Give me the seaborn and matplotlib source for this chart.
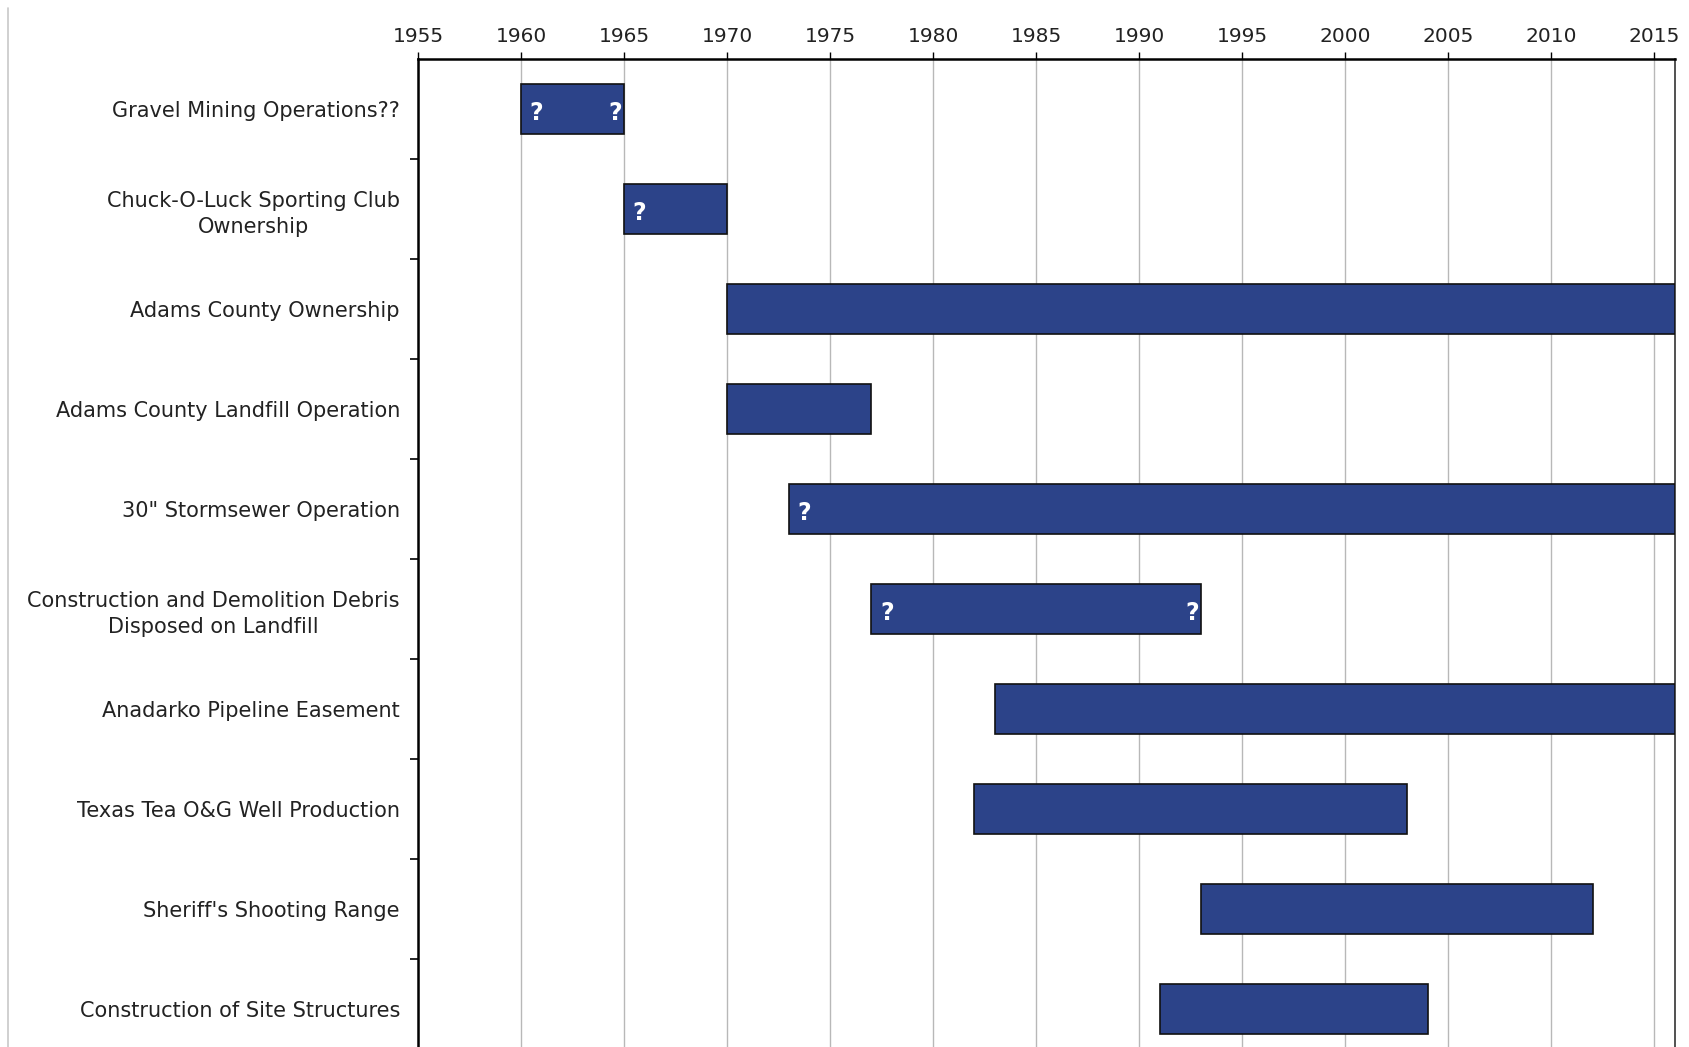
import matplotlib
matplotlib.use("Agg")
import matplotlib.pyplot as plt
import seaborn as sns
import pandas as pd
import numpy as np

categories = [
    "Gravel Mining Operations??",
    "Chuck-O-Luck Sporting Club\nOwnership",
    "Adams County Ownership",
    "Adams County Landfill Operation",
    "30\" Stormsewer Operation",
    "Construction and Demolition Debris\nDisposed on Landfill",
    "Anadarko Pipeline Easement",
    "Texas Tea O&G Well Production",
    "Sheriff's Shooting Range",
    "Construction of Site Structures",
]
start_year = [1960, 1965, 1970, 1970, 1973, 1977, 1983, 1982, 1993, 1991]
end_year = [1965, 1970, 2016, 1977, 2016, 1993, 2016, 2003, 2012, 2004]
uncertain_start = [True, True, False, False, True, True, False, False, False, False]
uncertain_end = [True, False, False, False, False, True, False, False, False, False]
year_ticks = list(range(1955, 2016, 5))

df = pd.DataFrame({"category": categories, "start": start_year, "end": end_year})
df["duration"] = df["end"] - df["start"]

sns.set_theme(style="white")
plt.rcParams["font.family"] = ["DejaVu Sans"]

W, H = 1690, 1047
fig = plt.figure(figsize=(W / 100, H / 100), dpi=100)
ax = fig.add_axes([418 / W, 1 - 1059 / H, (1675 - 418) / W, 1000 / H])

bar_color = "#2C4389"
sns.barplot(data=df, x="duration", y="category", orient="h", color=bar_color,
            saturation=1, width=0.5, edgecolor="#111111", linewidth=1.2, ax=ax, zorder=3)
for patch, s in zip(ax.patches, df["start"]):
    patch.set_x(s)

# question marks
for i, (s, e, us, ue) in enumerate(zip(df["start"], df["end"], uncertain_start, uncertain_end)):
    if us:
        ax.text(s + 0.75, i + 0.04, "?", color="white", fontsize=17, fontweight="bold",
                ha="center", va="center", zorder=5)
    if ue:
        ax.text(e - 0.45, i + 0.04, "?", color="white", fontsize=17, fontweight="bold",
                ha="center", va="center", zorder=5)

ax.set_xlim(1955, 2016)
ax.set_ylim(len(categories) - 0.5, -0.5)
ax.xaxis.tick_top()
ax.set_xticks(year_ticks)
ax.set_xticklabels([str(y) for y in year_ticks])
ax.tick_params(axis="x", which="major", top=True, bottom=False, direction="out",
               length=5, width=1, color="black", labelsize=14.5, pad=4, labelcolor="#222222")
ax.grid(axis="x", color="#b8b8b8", linewidth=1, zorder=0)
ax.grid(axis="y", visible=False)
ax.set_axisbelow(True)

ax.set_yticks(np.arange(len(categories)))
ax.set_yticklabels(categories, multialignment="center", linespacing=1.4)
ax.set_yticks(np.arange(len(categories)) + 0.5, minor=True)
ax.tick_params(axis="y", which="major", length=0, labelsize=15, pad=13, labelcolor="#222222")
ax.tick_params(axis="y", which="minor", left=True, direction="out", length=6, width=1.2, color="black")

ax.set_xlabel("")
ax.set_ylabel("")
for side in ["top", "left"]:
    ax.spines[side].set_color("black")
    ax.spines[side].set_linewidth(1.8)
ax.spines["right"].set_color("#333333")
ax.spines["right"].set_linewidth(1.2)
ax.spines["bottom"].set_visible(False)

# thin frame line at the left edge of the picture
fig.add_artist(plt.Line2D([8 / W, 8 / W], [0, 1 - 8 / H], transform=fig.transFigure,
                          color="#c8c8c8", linewidth=1.2))

fig.savefig("out.png", dpi=100)
